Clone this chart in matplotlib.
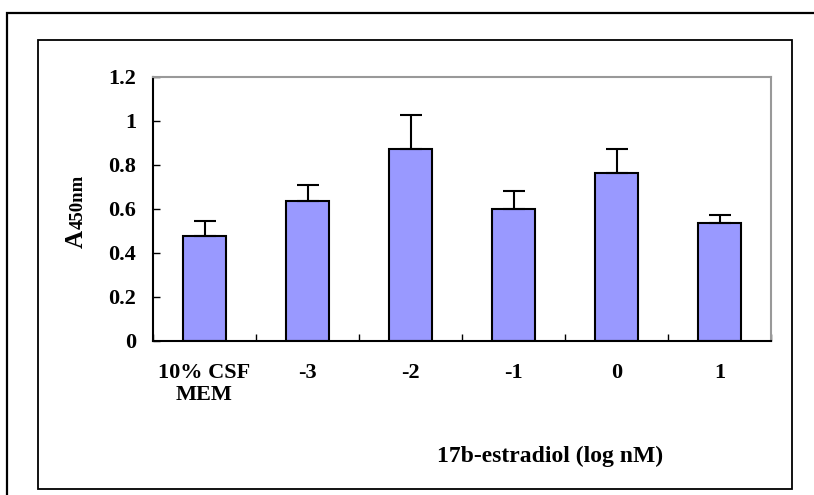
import numpy as np
import matplotlib
matplotlib.use('Agg')
import matplotlib.pyplot as plt
from matplotlib.patches import Rectangle

# data
categories = ['10% CSF\nMEM', '-3', '-2', '-1', '0', '1']
means = [0.479, 0.636, 0.871, 0.600, 0.762, 0.535]
errors = [0.066, 0.073, 0.156, 0.083, 0.109, 0.038]
y_ticks = [0, 0.2, 0.4, 0.6, 0.8, 1.0, 1.2]
y_tick_labels = ['0', '0.2', '0.4', '0.6', '0.8', '1', '1.2']

W, H = 814, 495
plt.rcParams['font.family'] = ['Liberation Serif', 'DejaVu Serif']
plt.rcParams['font.weight'] = 'bold'

fig = plt.figure(figsize=(W / 100, H / 100), dpi=100)
ax = fig.add_axes([153 / W, 1 - 341 / H, (771 - 153) / W, (341 - 77) / H])

x = np.arange(len(categories))
ax.bar(x, means, width=0.41, color='#9999FF', edgecolor='black', linewidth=1.5,
       zorder=2)
ax.errorbar(x, means, yerr=[np.zeros(len(errors)), errors], fmt='none',
            ecolor='black', elinewidth=1.5, capsize=8, capthick=1.5, zorder=3)

ax.set_xlim(-0.5, len(categories) - 0.5)
ax.set_ylim(0, 1.2)

ax.set_yticks(y_ticks)
ax.set_yticklabels(y_tick_labels)
ax.tick_params(axis='y', direction='in', length=5, width=1, pad=12,
               labelsize=16)

# category labels centred, tick marks between categories
ax.set_xticks(x)
ax.set_xticklabels(categories, linespacing=1.15)
ax.tick_params(axis='x', which='major', length=0, pad=16, labelsize=16)
ax.set_xticks(np.arange(len(categories) + 1) - 0.5, minor=True)
ax.tick_params(axis='x', which='minor', direction='in', length=5, width=1)

for side in ['top', 'right']:
    ax.spines[side].set_color('#999999')
    ax.spines[side].set_linewidth(1.5)
for side in ['left', 'bottom']:
    ax.spines[side].set_color('black')
    ax.spines[side].set_linewidth(1.5)

# y label: A with smaller 450nm
fig.text(83 / W, 1 - 248 / H, 'A', rotation=90, rotation_mode='anchor',
         ha='left', va='baseline', fontsize=18, fontweight='bold')
fig.text(83 / W, 1 - 229 / H, '450nm', rotation=90, rotation_mode='anchor',
         ha='left', va='baseline', fontsize=13.5, fontweight='bold')

fig.text(550 / W, 1 - 462 / H, '17b-estradiol (log nM)', ha='center',
         va='baseline', fontsize=17, fontweight='bold')

# frames
fig.patches.append(Rectangle((38 / W, 1 - 489 / H), (792 - 38) / W,
                             (489 - 40) / H, transform=fig.transFigure,
                             fill=False, edgecolor='black', linewidth=1.3))
fig.patches.append(Rectangle((7 / W, -0.1), 1.2, 1.1 - 13 / H,
                             transform=fig.transFigure, fill=False,
                             edgecolor='black', linewidth=1.6))

fig.savefig('out.png', dpi=100)
